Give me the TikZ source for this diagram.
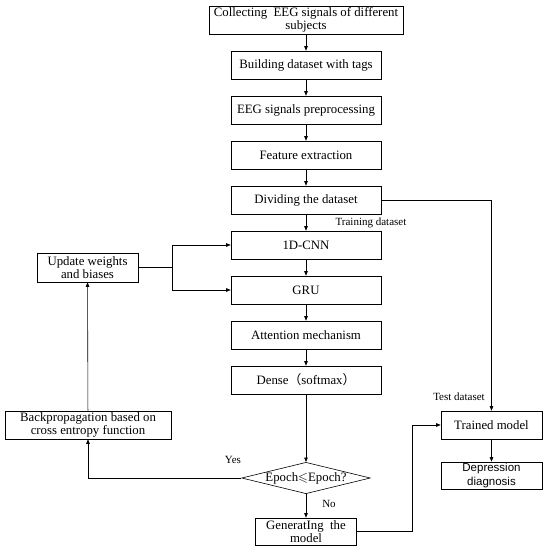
\documentclass[tikz,border=0pt]{standalone}
\usepackage{amssymb}
\usepackage{fontspec}
\setmainfont{Liberation Serif}
\newfontfamily\sansf{Liberation Sans}
\newfontfamily\cjk{Noto Sans CJK SC}
\usetikzlibrary{shapes.geometric, arrows.meta, positioning}

\tikzset{
  block/.style={draw, rectangle, line width=0.6pt, align=center, inner sep=1pt,
    minimum width=150pt, minimum height=28pt, font=\fontsize{12.8}{13.5}\selectfont},
  sideblock/.style={block, minimum width=101pt},
  decision/.style={draw, diamond, line width=0.6pt, inner sep=0pt, aspect=4.1,
    minimum width=128pt, minimum height=31pt, font=\fontsize{12.8}{13.5}\selectfont},
  tag/.style={font=\fontsize{11}{12}\selectfont, inner sep=0pt},
  flow/.style={-{Triangle[length=4.5pt,width=3.5pt]}, line width=0.6pt},
}

\begin{document}
\begin{tikzpicture}[x=1pt, y=-1pt, node distance=45pt, on grid]
  \useasboundingbox (0,0) rectangle (548,550);

  % main column
  \node[block, minimum width=194pt] (collect) at (306,20) {Collecting\ \ EEG signals of different\\subjects};
  \node[block] (tags) [below=of collect] {Building dataset with tags};
  \node[block] (prep) [below=of tags] {EEG signals preprocessing};
  \node[block] (feat) [below=of prep] {Feature extraction};
  \node[block] (divide) [below=of feat] {Dividing the dataset};
  \node[block] (cnn) [below=of divide] {1D-CNN};
  \node[block] (gru) [below=of cnn] {GRU};
  \node[block] (attn) [below=of gru] {Attention mechanism};
  \node[block] (dense) [below=of attn] {Dense{\cjk （}softmax{\cjk ）}};
  \node[decision] (epoch) [below=98pt of dense] {Epoch$\leqslant$Epoch?};
  \node[sideblock, minimum height=27pt] (gen) [below=53.5pt of epoch] {GeneratIng\ \ the\\model};

  % side boxes
  \node[sideblock, minimum height=29pt] (update) at (87.5,267.5) {Update weights\\and biases};
  \node[sideblock, minimum width=166pt] (backprop) at (88,425) {Backpropagation based on\\cross entropy function};
  \node[sideblock] (trained) at (491.5,425) {Trained model};
  \node[sideblock, minimum height=27pt, font=\sansf\fontsize{11.5}{13.5}\selectfont] (diag) [below=50.5pt of trained] {Depression\\diagnosis};

  \coordinate (split) at (172,267.5);

  \foreach \a/\b in {collect/tags, tags/prep, prep/feat, feat/divide, divide/cnn,
                     cnn/gru, gru/attn, attn/dense, dense/epoch, epoch/gen, trained/diag}
    \draw[flow] (\a) -- (\b);

  \draw[flow] (divide.east) -| (trained.north);
  \draw[line width=0.6pt] (update.east) -- (split);
  \draw[flow] (split) |- (cnn.west);
  \draw[flow] (split) |- (gru.west);
  \draw[flow] (backprop) -- (update);
  \draw[flow] (epoch.west) -| (backprop.south);
  \draw[flow] (gen.east) -- ++(55,0) |- (trained.west);

  % labels
  \node[tag] (trainlbl) at (371,223) {Training dataset};
  \node[tag] (testlbl) at (459,397) {Test dataset};
  \node[tag] (yes) at (233,460) {Yes};
  \node[tag] (no) at (329,504) {No};
\end{tikzpicture}
\end{document}
